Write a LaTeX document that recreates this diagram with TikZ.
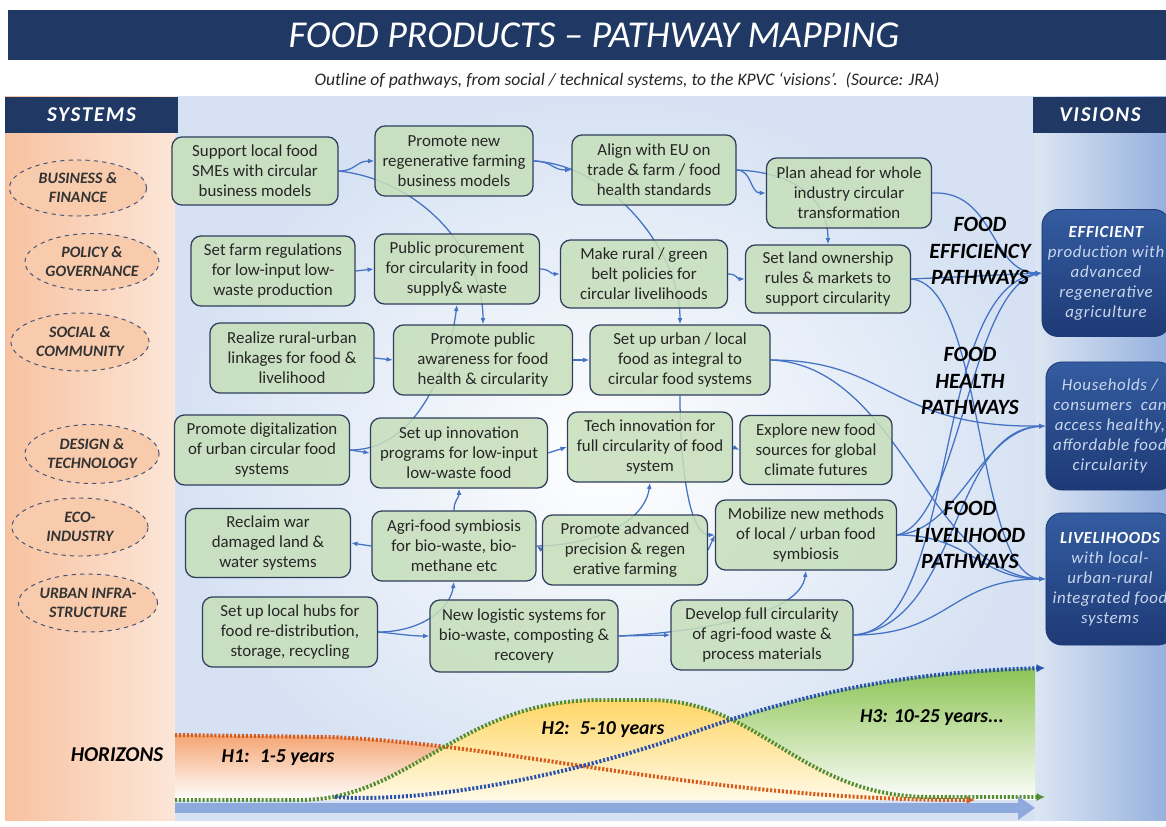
\documentclass[tikz,border=0pt]{standalone}
\usepackage{fontspec}
\setmainfont{Carlito}
\usepackage{tikz}
\usetikzlibrary{positioning,calc,arrows.meta,shapes.geometric}

\definecolor{navy}{RGB}{31,56,100}
\definecolor{boxfill}{RGB}{199,223,186}
\definecolor{boxline}{RGB}{47,62,92}
\definecolor{boxtext}{RGB}{38,38,38}
\definecolor{flowblue}{RGB}{68,114,196}
\definecolor{ellfill}{RGB}{248,203,173}
\definecolor{elldraw}{RGB}{68,84,120}
\definecolor{peachL}{RGB}{248,194,160}
\definecolor{peachR}{RGB}{252,230,216}
\definecolor{mainOut}{RGB}{214,226,243}
\definecolor{rightL}{RGB}{220,230,243}
\definecolor{rightR}{RGB}{150,177,222}
\definecolor{visTop}{RGB}{52,92,160}
\definecolor{visBot}{RGB}{30,58,118}
\definecolor{visText}{RGB}{200,214,238}
\definecolor{hOrange}{RGB}{244,165,115}
\definecolor{hYellow}{RGB}{255,214,102}
\definecolor{hPale}{RGB}{255,250,230}
\definecolor{hGreen}{RGB}{140,196,84}
\definecolor{dotOrange}{RGB}{214,92,30}
\definecolor{dotGreen}{RGB}{84,140,50}
\definecolor{dotBlue}{RGB}{40,80,175}
\definecolor{axisBlue}{RGB}{142,169,219}

\pgfdeclarelayer{bg}
\pgfdeclarelayer{links}
\pgfsetlayers{bg,links,main}

\newcommand{\boxfont}{\fontsize{12}{14.2}\selectfont}
\newcommand{\visfont}{\fontsize{12}{14.2}\selectfont\itshape\addfontfeature{LetterSpace=4}}

\begin{document}
\begin{tikzpicture}[x=0.025cm,y=-0.025cm]
  \tikzstyle{pbox} = [draw=boxline, fill=boxfill, fill opacity=0.85, text opacity=1, rounded corners=2.5mm, line width=0.9pt, align=center, inner sep=1pt, font=\boxfont, text=boxtext]
  \tikzstyle{sysnode} = [ellipse, draw=elldraw, fill=ellfill, dashed, line width=0.7pt, align=center, inner sep=0pt, text=black!80, font=\fontsize{11.3}{13.5}\selectfont\bfseries\itshape]
  \tikzstyle{vision} = [rounded corners=4mm, top color=visTop, bottom color=visBot, draw=visBot, line width=0.6pt, align=center, inner sep=1pt, text=visText, font=\visfont]
  \tikzstyle{pathlbl} = [align=center, inner sep=0pt, font=\fontsize{15.5}{19}\selectfont\bfseries\itshape]
  \tikzstyle{header} = [fill=navy, text=white, font=\fontsize{15}{17}\selectfont\bfseries\itshape\addfontfeature{LetterSpace=8}]
  \tikzstyle{flow} = [draw=flowblue, line width=0.9pt, -{Latex[length=4.5pt,width=3.5pt]}]
  \tikzstyle{hdots} = [line width=2.8pt, dash pattern=on 1.5pt off 1.3pt, -{Latex[length=6pt,width=6pt]}]
  \tikzstyle{hlbl} = [inner sep=0pt, font=\fontsize{14}{16}\selectfont\bfseries\itshape]
  \tikzset{boxsize/.style 2 args={minimum width=#1*0.25mm, minimum height=#2*0.25mm}}

  \useasboundingbox (0,0) rectangle (1166,827);

  % backgrounds and horizons
  \begin{pgfonlayer}{bg}
    \fill[white] (0,0) rectangle (1166,827);
    \shade[inner color=white, outer color=mainOut] (175,97) rectangle (1035,820);
    \shade[left color=peachL, right color=peachR] (5,97) rectangle (175,820);
    \shade[left color=rightL, right color=rightR] (1035,97) rectangle (1166,820);

    \shade[top color=hOrange, bottom color=white] (175,735) -- (330,737) .. controls (520,745) and (700,800) .. (975,800) -- (175,800) -- cycle;
    \shade[top color=hGreen, bottom color=white] (335,797) .. controls (420,803) and (560,780) .. (700,730) .. controls (800,695) and (900,672) .. (1035,668) -- (1035,800) -- (335,800) -- cycle;
    \shade[top color=hYellow, bottom color=hPale] (300,800) .. controls (410,800) and (460,700) .. (600,700) -- (650,700) .. controls (760,700) and (800,797) .. (930,797) -- (930,800) -- cycle;

    \draw[hdots, dotOrange] (175,735) -- (330,737) .. controls (520,745) and (700,800) .. (975,800);
    \draw[hdots, dotGreen] (175,800) -- (300,800) .. controls (410,800) and (460,700) .. (600,700) -- (650,700) .. controls (760,700) and (800,797) .. (930,797) -- (1045,797);
    \draw[hdots, dotBlue] (335,797) .. controls (420,803) and (560,780) .. (700,730) .. controls (800,695) and (900,672) .. (1045,668);
    \draw[line width=7pt, axisBlue, -{Triangle[length=12pt,width=16pt]}] (175,808) -- (1035,808);
  \end{pgfonlayer}

  % headers
  \node[fill=navy, boxsize={1158}{50}] (titleBar) at (587,35) {};
  \node[text=white, font=\fontsize{27}{30}\selectfont\itshape] (title) at (594,35) {FOOD PRODUCTS -- PATHWAY MAPPING};
  \node[font=\fontsize{12.5}{14}\selectfont\itshape, text=black!85] (subtitle) at (627,80) {Outline of pathways, from social / technical systems, to the KPVC `visions'.~~(Source: JRA)};
  \node[header, boxsize={173}{36}] (sysHead) at (91.5,115) {SYSTEMS};
  \node[header, boxsize={134}{36}] (visHead) at (1100,115) {VISIONS};

  % systems
  \node[sysnode, boxsize={137}{56}] (sBus) at (78,188) {BUSINESS \&\\FINANCE};
  \node[sysnode, boxsize={134}{57}] (sPol) at (92,262) {POLICY \&\\GOVERNANCE};
  \node[sysnode, boxsize={138}{58}] (sSoc) at (80,342) {SOCIAL \&\\COMMUNITY};
  \node[sysnode, boxsize={134}{59}] (sDes) at (92,454) {DESIGN \&\\TECHNOLOGY};
  \node[sysnode, boxsize={136}{58}] (sEco) at (80,527) {ECO-\\INDUSTRY};
  \node[sysnode, boxsize={139}{58}] (sUrb) at (88,603) {URBAN INFRA-\\STRUCTURE};

  % pathway steps
  \node[pbox, boxsize={166}{68}] (sme) at (255,171) {Support local food\\SMEs with circular\\business models};
  \node[pbox, boxsize={158}{70}] (regen) at (454,161) {Promote new\\regenerative farming\\business models};
  \node[pbox, boxsize={164}{70}] (align) at (654,170) {Align with EU on\\trade \& farm / food\\health standards};
  \node[pbox, boxsize={165}{70}] (plan) at (849,193) {Plan ahead for whole\\industry circular\\transformation};
  \node[pbox, boxsize={164}{70}] (farmreg) at (273,271) {Set farm regulations\\for low-input low-\\waste production};
  \node[pbox, boxsize={165}{70}] (procure) at (457,269) {Public procurement\\for circularity in food\\supply\& waste};
  \node[pbox, boxsize={167}{68}] (greenbelt) at (644,274) {Make rural / green\\belt policies for\\circular livelihoods};
  \node[pbox, boxsize={165}{68}] (landown) at (828,279) {Set land ownership\\rules \& markets to\\support circularity};
  \node[pbox, boxsize={164}{70}] (linkage) at (292,358) {Realize rural-urban\\linkages for food \&\\livelihood};
  \node[pbox, boxsize={179}{70}] (aware) at (483,360) {Promote public\\awareness for food\\health \& circularity};
  \node[pbox, boxsize={180}{70}] (urbanfood) at (680,360) {Set up urban / local\\food as integral to\\circular food systems};
  \node[pbox, boxsize={175}{70}] (digital) at (262,450) {Promote digitalization\\of urban circular food\\systems};
  \node[pbox, boxsize={177}{70}] (innov) at (459,453) {Set up innovation\\programs for low-input\\low-waste food};
  \node[pbox, boxsize={165}{70}] (techinn) at (650,447) {Tech innovation for\\full circularity of food\\system};
  \node[pbox, boxsize={152}{69}] (explore) at (816,450) {Explore new food\\sources for global\\climate futures};
  \node[pbox, boxsize={165}{69}] (reclaim) at (268,543) {Reclaim war\\damaged land \&\\water systems};
  \node[pbox, boxsize={164}{70}] (symbio) at (454,546) {Agri-food symbiosis\\for bio-waste, bio-\\methane etc};
  \node[pbox, boxsize={165}{70}] (precision) at (625,550) {Promote advanced\\precision \& regen\\erative farming};
  \node[pbox, boxsize={181}{70}] (mobilize) at (806,535) {Mobilize new methods\\of local / urban food\\symbiosis};
  \node[pbox, boxsize={175}{70}] (hubs) at (290,632) {Set up local hubs for\\food re-distribution,\\storage, recycling};
  \node[pbox, boxsize={188}{72}] (logistic) at (524,636) {New logistic systems for\\bio-waste, composting \&\\recovery};
  \node[pbox, boxsize={182}{70}] (develop) at (762,635) {Develop full circularity\\of agri-food waste \&\\process materials};

  % visions
  \node[vision, boxsize={128}{127}] (vEff) at (1106,273) {{\color{white}\bfseries EFFICIENT}\\production with\\advanced\\regenerative\\agriculture};
  \node[vision, boxsize={128}{128}] (vHealth) at (1110,426) {Households /\\consumers~ can\\access healthy,\\affordable food\\circularity};
  \node[vision, boxsize={128}{132}] (vLive) at (1110,579) {{\color{white}\bfseries LIVELIHOODS}\\with local-\\urban-rural\\integrated food\\systems};

  % pathway labels
  \node[pathlbl] (pEff) at (980,251) {FOOD\\EFFICIENCY\\PATHWAYS};
  \node[pathlbl] (pHealth) at (970,381) {FOOD\\HEALTH\\PATHWAYS};
  \node[pathlbl] (pLive) at (970,535) {FOOD\\LIVELIHOOD\\PATHWAYS};

  % horizons
  \node[hlbl, font=\fontsize{15}{17}\selectfont\bfseries\itshape] (horizons) at (117,755) {HORIZONS};
  \node[hlbl] (h1) at (278,758) {H1:~ 1-5 years};
  \node[hlbl] (h2) at (603,730) {H2:~ 5-10 years};
  \node[hlbl] (h3) at (932,718) {H3: 10-25 years...};

  % links
  \begin{pgfonlayer}{links}
    \draw[flow] (sme.east) .. controls (356,171) and (356,161) .. (regen.west);
    \draw[flow] (sme.east) .. controls (420,180) and (483,250) .. (aware.north);
    \draw[flow] (regen.east) .. controls (552,161) and (552,170) .. (align.west);
    \draw[flow] (regen.east) .. controls (610,165) and (680,250) .. (urbanfood.north);
    \draw[flow] (align.east) .. controls (752,170) and (750,193) .. (plan.west);
    \draw[flow] (align.east) .. controls (795,172) and (828,200) .. (landown.north);
    \draw[flow] (plan.east) .. controls (995,190) and (990,272) .. (vEff.west);
    \draw[flow] (farmreg.east) -- (procure.west);
    \draw[flow] (procure.east) .. controls (550,269) and (550,274) .. (greenbelt.west);
    \draw[flow] (greenbelt.east) .. controls (737,274) and (737,279) .. (landown.west);
    \draw[flow] (landown.east) -- (vEff.west);
    \draw[flow] (landown.east) .. controls (985,285) and (975,575) .. (vLive.west);
    \draw[flow] (linkage.east) -- (aware.west);
    \draw[flow] (aware.east) -- (urbanfood.west);
    \draw[flow] (urbanfood.east) .. controls (890,360) and (890,428) .. (vHealth.west);
    \draw[flow] (urbanfood.east) .. controls (900,365) and (930,575) .. (vLive.west);
    \draw[flow] (urbanfood.south) .. controls (680,470) and (690,535) .. (mobilize.west);
    \draw[flow] (digital.east) -- (innov.west);
    \draw[flow] (digital.east) .. controls (420,450) and (450,360) .. (procure.south);
    \draw[flow] (innov.east) -- (techinn.west);
    \draw[flow] (techinn.east) -- (explore.west);
    \draw[flow] (symbio.north) .. controls (454,500) and (459,498) .. (innov.south);
    \draw[flow] (hubs.east) .. controls (420,632) and (450,610) .. (symbio.south);
    \draw[flow] (hubs.east) .. controls (400,634) and (410,636) .. (logistic.west);
    \draw[flow] (precision.west) -- (symbio.east);
    \draw[flow] (symbio.west) -- (reclaim.east);
    \draw[flow] (symbio.east) .. controls (600,545) and (645,520) .. (techinn.south);
    \draw[flow] (precision.east) -- (mobilize.west);
    \draw[flow] (logistic.east) -- (develop.west);
    \draw[flow] (logistic.east) .. controls (700,632) and (800,615) .. (mobilize.south);
    \draw[flow] (develop.east) .. controls (950,635) and (950,579) .. (vLive.west);
    \draw[flow] (develop.east) .. controls (960,630) and (930,290) .. (vEff.west);
    \draw[flow] (develop.east) .. controls (960,625) and (950,430) .. (vHealth.west);
    \draw[flow] (mobilize.east) .. controls (970,535) and (980,579) .. (vLive.west);
    \draw[flow] (mobilize.east) .. controls (960,520) and (970,290) .. (vEff.west);
    \draw[flow] (mobilize.east) .. controls (960,530) and (980,430) .. (vHealth.west);
  \end{pgfonlayer}
\end{tikzpicture}
\end{document}
